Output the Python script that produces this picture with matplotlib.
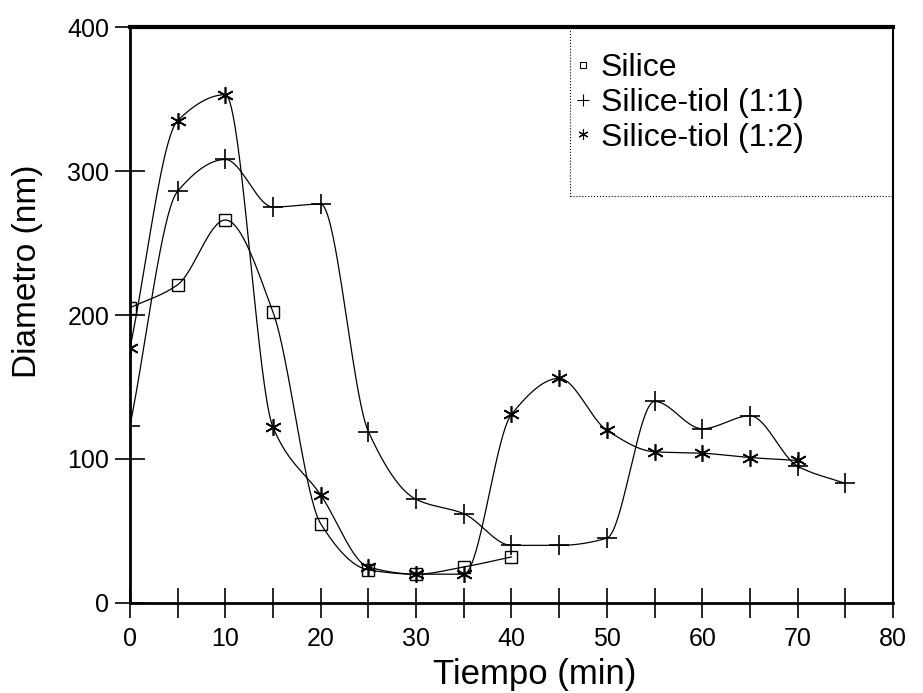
import numpy as np
import matplotlib
matplotlib.use("Agg")
import matplotlib.pyplot as plt
from matplotlib.patches import Rectangle

plt.rcParams['font.family'] = ['Liberation Sans', 'DejaVu Sans']

# data
t_silice = [0, 5, 10, 15, 20, 25, 30, 35, 40]
d_silice = [205, 221, 266, 202, 55, 23, 20, 25, 32]

t_tiol11 = [0, 5, 10, 15, 20, 25, 30, 35, 40, 45, 50, 55, 60, 65, 70, 75]
d_tiol11 = [123, 286, 308, 275, 277, 119, 72, 62, 40, 40, 45, 140, 121, 130, 95, 83]

t_tiol12 = [0, 5, 10, 15, 20, 25, 30, 35, 40, 45, 50, 55, 60, 65, 70]
d_tiol12 = [177, 335, 353, 122, 75, 25, 20, 20, 131, 156, 120, 105, 104, 101, 99]

labels = ['Silice', 'Silice-tiol (1:1)', 'Silice-tiol (1:2)']


def smooth(x, y, n=40):
    # monotone cubic (pchip-like) curve through the points
    x = np.asarray(x, float)
    y = np.asarray(y, float)
    h = np.diff(x)
    d = np.diff(y) / h
    m = np.zeros_like(y)
    for k in range(1, len(y)-1):
        if d[k-1]*d[k] > 0:
            w1 = 2*h[k] + h[k-1]
            w2 = h[k] + 2*h[k-1]
            m[k] = (w1 + w2) / (w1/d[k-1] + w2/d[k])
    m[0] = d[0]
    m[-1] = d[-1]
    s = np.linspace(0, 1, n)
    xs, ys = [], []
    for k in range(len(h)):
        xs.extend(x[k] + s*h[k])
        ys.extend((2*s**3 - 3*s**2 + 1)*y[k] + (s**3 - 2*s**2 + s)*h[k]*m[k]
                  + (-2*s**3 + 3*s**2)*y[k+1] + (s**3 - s**2)*h[k]*m[k+1])
    return np.array(xs), np.array(ys)


fig = plt.figure(figsize=(9.23, 6.93), dpi=100)
ax = fig.add_axes([0.1408, 0.1299, 0.8267, 0.8311])

series = [(t_silice, d_silice, dict(marker='s', markerfacecolor='none', markersize=8)),
          (t_tiol11, d_tiol11, dict(marker='+', markersize=14, markeredgewidth=1.2)),
          (t_tiol12, d_tiol12, dict(marker=(6, 2, 0), markersize=12, markeredgewidth=1.2))]

handles = []
for (t, d, mk), lab in zip(series, labels):
    sx, sy = smooth(t, d)
    ax.plot(sx, sy, color='black', lw=0.9)
    ax.plot(t, d, linestyle='none', color='black', **mk)
    h, = ax.plot([], [], linestyle='none', color='black', label=lab,
                 **{**mk, 'markersize': mk['markersize']*0.6, 'markeredgewidth': 0.8})
    handles.append(h)

ax.set_xlim(0, 80)
ax.set_ylim(0, 400)
ax.set_xticks(np.arange(0, 81, 10))
ax.set_xticks(np.arange(5, 80, 10), minor=True)
ax.set_yticks(np.arange(0, 401, 100))
ax.tick_params(axis='both', which='both', direction='inout', length=22, width=1.2,
               labelsize=18)
ax.tick_params(axis='x', which='both', pad=6)
ax.tick_params(axis='y', pad=4)

ax.spines['top'].set_linewidth(3)
ax.spines['left'].set_linewidth(2)
ax.spines['bottom'].set_linewidth(2)
ax.spines['right'].set_linewidth(1.5)

ax.set_xlabel('Tiempo (min)', fontsize=25)
ax.xaxis.set_label_coords(0.531, -0.095)
ax.set_ylabel('Diametro (nm)', fontsize=24, va='center')
ax.yaxis.set_label_coords(-0.134, 0.576)

# legend box with dotted frame in the upper right corner
ax.add_patch(Rectangle((0.577, 0.706), 0.423, 0.294, transform=ax.transAxes,
                       fill=False, edgecolor='black', linestyle=':', lw=0.8))
leg = ax.legend(handles=handles, loc='upper left', bbox_to_anchor=(0.579, 0.955),
                fontsize=23, frameon=False, handlelength=0.7, borderpad=0,
                handletextpad=0.2, labelspacing=0.15, borderaxespad=0)

fig.savefig('out.png', dpi=100)
